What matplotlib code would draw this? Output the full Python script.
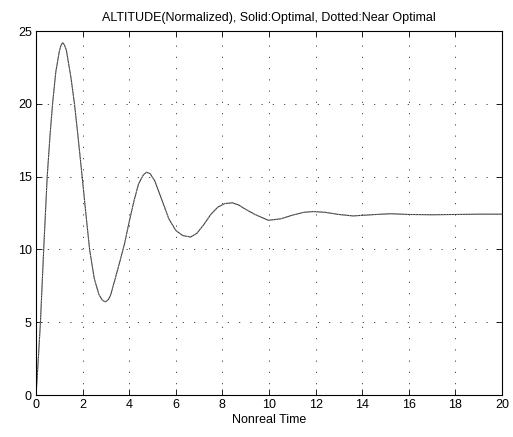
import numpy as np
import matplotlib.pyplot as plt

# Altitude response
ar_t = [0.0, 0.05, 0.1, 0.19, 0.33, 0.48, 0.6, 0.71, 0.85, 1.0, 1.07, 1.14, 1.22, 1.3,
        1.5, 1.65, 1.8, 1.98, 2.15, 2.3, 2.5, 2.7, 2.85, 2.98, 3.1, 3.2, 3.4,
        3.62, 3.8, 4.0, 4.2, 4.4, 4.6, 4.74, 4.9, 5.1, 5.4, 5.7, 6.0,
        6.3, 6.63, 6.9, 7.2, 7.5, 7.8, 8.1, 8.43, 8.7, 9.0, 9.4, 9.97,
        10.5, 11.0, 11.5, 11.9, 12.4, 13.0, 13.6, 14.1, 14.6, 15.2, 16.0,
        17.0, 18.0, 19.0, 20.0]
ar_alt = [0.0, 1.2, 2.5, 5.0, 10.0, 15.0, 17.8, 20.0, 22.2, 23.6, 24.0, 24.2, 24.05, 23.7,
          21.8, 20.0, 17.8, 15.0, 12.3, 10.0, 8.0, 6.9, 6.5, 6.4, 6.55, 6.85, 8.0,
          9.3, 10.4, 11.9, 13.3, 14.5, 15.1, 15.3, 15.2, 14.7, 13.4, 12.1, 11.3,
          10.95, 10.85, 11.1, 11.7, 12.4, 12.9, 13.15, 13.2, 13.05, 12.75, 12.4, 12.0,
          12.1, 12.35, 12.55, 12.6, 12.55, 12.4, 12.3, 12.35, 12.4, 12.45, 12.4,
          12.38, 12.4, 12.42, 12.42]

ar_xticks = np.arange(0, 21, 2)
ar_yticks = np.arange(0, 26, 5)

plt.rcParams['font.family'] = ['Liberation Sans', 'DejaVu Sans']

fig = plt.figure(figsize=(5.13, 4.37), dpi=100)
ax = fig.add_axes([0.0702, 0.0961, 0.9084, 0.8329])

# Optimal (solid) and near optimal (dotted) are almost on top of each other
ax.plot(ar_t, ar_alt, color='#333333', linewidth=0.75, linestyle='-')
ax.plot(ar_t, ar_alt, color='#999999', linewidth=0.75, linestyle=':')

ax.set_xlim(0, 20)
ax.set_ylim(0, 25)
ax.set_xticks(ar_xticks)
ax.set_yticks(ar_yticks)
ax.tick_params(direction='in', length=4, width=0.6, top=True, right=True,
               labelsize=9, pad=3)
ax.grid(True, color='#333333', linewidth=0.6, linestyle=(0, (1.5, 12)))
for sp in ax.spines.values():
    sp.set_linewidth(0.8)

ax.set_title('ALTITUDE(Normalized), Solid:Optimal, Dotted:Near Optimal',
             fontsize=9, pad=7)
ax.set_xlabel('Nonreal Time', fontsize=9, labelpad=2)

fig.savefig('out.png', dpi=100)
